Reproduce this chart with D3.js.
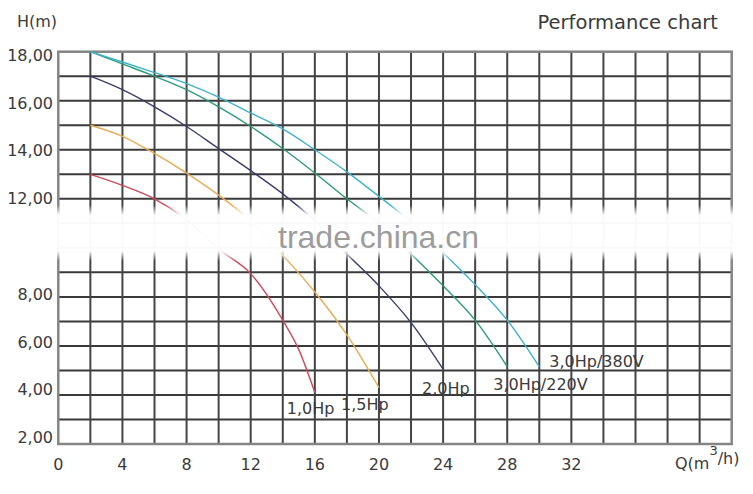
<!DOCTYPE html>
<html>
<head>
<meta charset="utf-8">
<script src="https://cdn.jsdelivr.net/npm/d3@7"></script>
<style>
  html, body { margin: 0; padding: 0; background: #fff; }
  svg { display: block; font-family: "DejaVu Sans", sans-serif; }
</style>
</head>
<body>
<svg id="chart" width="753" height="494"></svg>
<script>
// Pump curves: [Q (m3/h), H (m)]
const hp10 = [[2, 13], [4, 12.55], [6, 12], [8, 11.15], [10, 9.95], [12, 8.95], [14, 7.05], [15, 5.85], [16, 4.1]];
const hp15 = [[2, 15], [4, 14.55], [6, 13.85], [8, 13.05], [10, 12.15], [12, 11.1], [14, 9.7], [16, 8.2], [18, 6.45], [20, 4.3]];
const hp20 = [[2, 17], [4, 16.45], [6, 15.75], [8, 14.95], [10, 14.05], [12, 13.15], [14, 12.2], [16, 11.1], [18, 9.75], [20, 8.45], [22, 6.95], [24, 5.05]];
const hp30v220 = [[2, 18], [4, 17.5], [6, 17], [8, 16.45], [10, 15.75], [12, 14.95], [14, 14.05], [16, 13.05], [18, 12], [20, 11], [22, 9.75], [24, 8.45], [26, 7.05], [28, 5.15]];
const hp30v380 = [[2, 18], [4, 17.58], [6, 17.15], [8, 16.7], [10, 16.15], [12, 15.5], [14, 14.85], [16, 14], [18, 13.1], [20, 12.1], [22, 11.05], [24, 9.8], [26, 8.5], [28, 7.05], [30, 5.15]];

const seriesNames = ['1,0Hp', '1,5Hp', '2,0Hp', '3,0Hp/220V', '3,0Hp/380V'];
const seriesValues = [hp10, hp15, hp20, hp30v220, hp30v380];

const xTickLabels = [0, 4, 8, 12, 16, 20, 24, 28, 32];
const yTickLabels = [18, 16, 14, 12, 8, 6, 4, 2];

// styling / layout, kept apart from the data
const colors = ['#cc4a5c', '#e8ac55', '#3b3b6b', '#2b9c78', '#3eb2c9'];
const labelOffsets = [[-28, 21], [-38, 22], [-21, 25], [-14, 23], [10, 0]];

const svg = d3.select('#chart');

const x = d3.scaleLinear().domain([0, 42]).range([58.3, 731.7]);
const y = d3.scaleLinear().domain([2, 18]).range([444, 51.7]);
// tick labels sit on a slightly tighter spacing than the grid in the original
const yLabel = d3.scaleLinear().domain([2, 18]).range([437.5, 55]);

const grid = svg.append('g').attr('class', 'grid');

grid.selectAll('line.h')
  .data(d3.range(3, 18))
  .enter()
  .append('line')
  .classed('h', true)
  .attr('x1', x(0))
  .attr('x2', x(42))
  .attr('y1', d => y(d))
  .attr('y2', d => y(d))
  .attr('stroke', '#3a3a3a')
  .attr('stroke-width', 2);

grid.selectAll('line.v')
  .data(d3.range(2, 42, 2))
  .enter()
  .append('line')
  .classed('v', true)
  .attr('x1', d => x(d))
  .attr('x2', d => x(d))
  .attr('y1', y(18))
  .attr('y2', y(2))
  .attr('stroke', '#444')
  .attr('stroke-width', 2);

grid.append('rect')
  .attr('x', x(0))
  .attr('y', y(18))
  .attr('width', x(42) - x(0))
  .attr('height', y(2) - y(18))
  .attr('fill', 'none')
  .attr('stroke', '#858585')
  .attr('stroke-width', 2.5);

// curves
const line = d3.line()
  .x(d => x(d[0]))
  .y(d => y(d[1]))
  .curve(d3.curveMonotoneX);

const curves = svg.append('g').attr('class', 'curves');
curves.selectAll('path')
  .data(seriesValues)
  .enter()
  .append('path')
  .attr('d', line)
  .attr('fill', 'none')
  .attr('stroke', (d, i) => colors[i])
  .attr('stroke-width', 1.4);

// watermark band across the middle of the grid
const defs = svg.append('defs');
const grad = defs.append('linearGradient')
  .attr('id', 'band')
  .attr('x1', 0).attr('y1', 0)
  .attr('x2', 0).attr('y2', 1);
grad.append('stop').attr('offset', '0%').attr('stop-color', '#fff').attr('stop-opacity', 0);
grad.append('stop').attr('offset', '18%').attr('stop-color', '#fff').attr('stop-opacity', 0.97);
grad.append('stop').attr('offset', '82%').attr('stop-color', '#fff').attr('stop-opacity', 0.97);
grad.append('stop').attr('offset', '100%').attr('stop-color', '#fff').attr('stop-opacity', 0);

svg.append('rect')
  .attr('x', 0)
  .attr('y', 205)
  .attr('width', 753)
  .attr('height', 56)
  .attr('fill', 'url(#band)');

svg.append('text')
  .attr('x', 278)
  .attr('y', 248)
  .attr('font-family', '"Liberation Sans", Arial, sans-serif')
  .attr('font-size', 32)
  .attr('fill', '#9c9c9c')
  .text('trade.china.cn');

// curve labels
const labels = svg.append('g').attr('class', 'labels');
labels.selectAll('text')
  .data(seriesValues)
  .enter()
  .append('text')
  .attr('x', (d, i) => x(d[d.length - 1][0]) + labelOffsets[i][0])
  .attr('y', (d, i) => y(d[d.length - 1][1]) + labelOffsets[i][1])
  .attr('font-size', 16)
  .attr('fill', '#3a3a3a')
  .text((d, i) => seriesNames[i]);

// axis tick labels
const fmt = d3.format('.2f');
svg.append('g')
  .selectAll('text')
  .data(yTickLabels)
  .enter()
  .append('text')
  .attr('x', 53)
  .attr('y', d => yLabel(d))
  .attr('dy', '0.36em')
  .attr('text-anchor', 'end')
  .attr('font-size', 16)
  .attr('fill', '#3a3a3a')
  .text(d => fmt(d).replace('.', ','));

svg.append('g')
  .selectAll('text')
  .data(xTickLabels)
  .enter()
  .append('text')
  .attr('x', d => x(d))
  .attr('y', 470)
  .attr('text-anchor', 'middle')
  .attr('font-size', 16)
  .attr('fill', '#3a3a3a')
  .text(d => d);

// axis titles
svg.append('text')
  .attr('x', 17)
  .attr('y', 27)
  .attr('font-size', 16)
  .attr('fill', '#3a3a3a')
  .text('H(m)');

const qTitle = svg.append('text')
  .attr('x', 675)
  .attr('y', 469)
  .attr('font-size', 16)
  .attr('fill', '#3a3a3a');
qTitle.append('tspan').text('Q(m');
qTitle.append('tspan').attr('font-size', 13).attr('dy', -14).text('3');
qTitle.append('tspan').attr('dy', 9).text('/h)');

svg.append('text')
  .attr('x', 718)
  .attr('y', 29)
  .attr('text-anchor', 'end')
  .attr('font-size', 19.5)
  .attr('fill', '#3a3a3a')
  .text('Performance chart');
</script>
</body>
</html>
